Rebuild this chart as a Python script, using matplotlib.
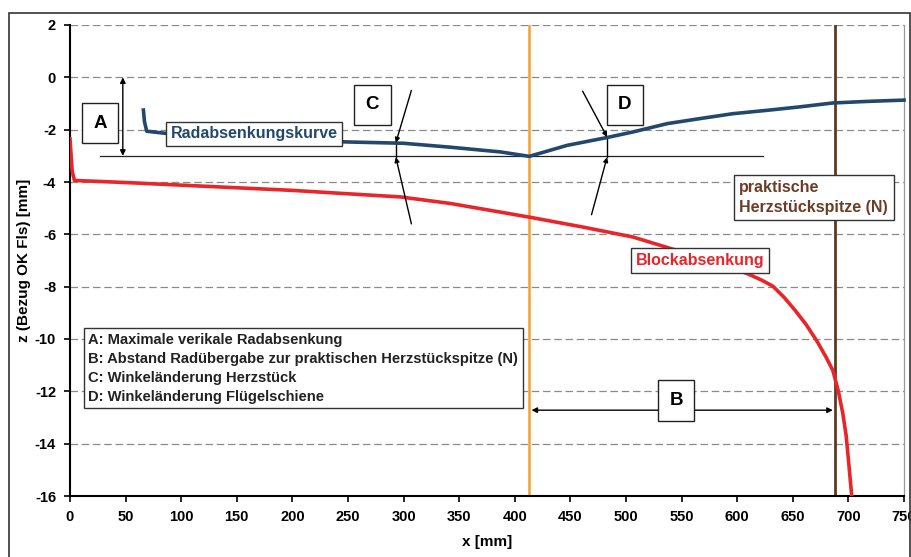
import matplotlib
matplotlib.use("Agg")
import matplotlib.pyplot as plt
from matplotlib.patches import Rectangle

# ---- data ----
blue_x = [66, 67, 69, 86, 100, 150, 200, 250, 300, 342, 387, 413, 447, 483, 506,
          537, 566, 596, 627, 656, 686, 717, 750]
blue_y = [-1.25, -1.7, -2.06, -2.14, -2.18, -2.3, -2.4, -2.47, -2.52, -2.67, -2.85,
          -3.02, -2.6, -2.3, -2.09, -1.77, -1.58, -1.39, -1.26, -1.13, -0.98, -0.92, -0.87]
red_x = [0, 2, 4, 50, 100, 150, 200, 250, 297, 342, 387, 414, 461, 506, 537, 575,
         609, 622, 632, 642, 652, 662, 672, 680, 686, 691, 695, 698, 700, 703]
red_y = [-2.35, -3.6, -3.94, -4.02, -4.12, -4.22, -4.32, -4.45, -4.57, -4.82, -5.15,
         -5.35, -5.72, -6.1, -6.5, -7.0, -7.5, -7.75, -7.98, -8.4, -8.9, -9.45, -10.1,
         -10.7, -11.2, -12.0, -12.85, -13.7, -14.6, -16.0]
x_transfer = 413      # Radübergabe (orange line)
x_tip = 688           # praktische Herzstückspitze (brown line)
z_min = -3.0          # maximale Radabsenkung
x_ticks = list(range(0, 751, 50))
y_ticks = list(range(-16, 3, 2))
legend_lines = ["A: Maximale verikale Radabsenkung",
                "B: Abstand Radübergabe zur praktischen Herzstückspitze (N)",
                "C: Winkeländerung Herzstück",
                "D: Winkeländerung Flügelschiene"]

plt.rcParams['font.family'] = ['Liberation Sans', 'DejaVu Sans']
plt.rcParams['font.weight'] = 'bold'
plt.rcParams['axes.unicode_minus'] = False

fig = plt.figure(figsize=(9.12, 5.57), dpi=100)
W, H = 912, 557
# outer chart frame
fig.patches.append(Rectangle((9 / W, -0.05), (910 - 9) / W, 1 - 13 / H + 0.05,
                             transform=fig.transFigure, fill=False, ec='#333333', lw=1.2))

ax = fig.add_axes([70 / W, 1 - 496 / H, (904 - 70) / W, (496 - 25) / H])
ax.set_xlim(0, 750)
ax.set_ylim(-16, 2)
ax.set_xticks(x_ticks)
ax.set_yticks(y_ticks)
ax.tick_params(labelsize=10.5, length=4, width=1.2, direction='out', pad=6)
for lab in ax.get_xticklabels() + ax.get_yticklabels():
    lab.set_fontweight('bold')
for t in y_ticks[1:]:
    ax.axhline(t, color='#8a8a8a', lw=0.9, ls=(0, (6, 3)), zorder=0)
ax.spines['top'].set_visible(False)
ax.spines['right'].set_color('#999999')
ax.spines['right'].set_linewidth(0.9)
ax.spines['left'].set_linewidth(1.5)
ax.spines['bottom'].set_linewidth(1.5)

ax.set_xlabel('x [mm]', fontsize=11, fontweight='bold', labelpad=8)
ax.set_ylabel('z (Bezug OK Fls) [mm]', fontsize=11, fontweight='bold')
ax.yaxis.set_label_coords(-0.047, 0.5)

# vertical lines
ax.axvline(x_transfer, color='#f5a02a', lw=1.8, zorder=2)
ax.axvline(x_tip, color='#5a3b22', lw=2.0, zorder=2)

# curves
ax.plot(blue_x, blue_y, color='#23486b', lw=2.6, zorder=3, clip_on=False)
ax.plot(red_x, red_y, color='#e8262a', lw=2.6, zorder=3)

# reference line at z_min
ax.plot([27, 623], [z_min, z_min], color='#222222', lw=0.9, zorder=2)

arrow_kw = dict(arrowstyle='<|-|>', color='black', lw=1.0, mutation_scale=8, shrinkA=0, shrinkB=0)
# A arrow
ax.annotate('', xy=(47.5, 0), xytext=(47.5, z_min), arrowprops=arrow_kw)
# B arrow
ax.annotate('', xy=(415, -12.72), xytext=(686, -12.72), arrowprops=arrow_kw)

one_kw = dict(arrowstyle='-|>', color='black', lw=1.0, mutation_scale=7, shrinkA=0, shrinkB=0)
# C lines
ax.annotate('', xy=(293, -2.5), xytext=(307, -0.5), arrowprops=one_kw)
ax.annotate('', xy=(293, -3.05), xytext=(307, -5.6), arrowprops=one_kw)
ax.plot([293, 293], [-2.5, -3.05], color='black', lw=1.0)
# D lines
ax.annotate('', xy=(483, -2.28), xytext=(461, -0.53), arrowprops=one_kw)
ax.annotate('', xy=(483, -3.05), xytext=(469, -5.25), arrowprops=one_kw)
ax.plot([483, 483], [-2.28, -3.05], color='black', lw=1.0)

box = dict(boxstyle='square,pad=0.62', fc='white', ec='#222222', lw=1.0)
letter_kw = dict(fontsize=13.5, fontweight='bold', ha='center', va='center', bbox=box, zorder=5)
ax.text(27, -1.75, 'A', **letter_kw)
ax.text(272, -1.05, 'C', **letter_kw)
ax.text(499, -1.05, 'D', **letter_kw)
ax.text(545, -12.35, 'B', **letter_kw)

lbl_box = dict(boxstyle='square,pad=0.3', fc='white', ec='#333333', lw=1.0)
ax.text(90.5, -2.16, 'Radabsenkungskurve', fontsize=11.5, fontweight='bold', color='#23486b',
        ha='left', va='center', bbox=lbl_box, zorder=5)
ax.text(509, -6.99, 'Blockabsenkung', fontsize=11.5, fontweight='bold', color='#e8262a',
        ha='left', va='center', bbox=lbl_box, zorder=5)
ax.text(602, -4.59, 'praktische\nHerzstückspitze (N)', fontsize=11.5, fontweight='bold',
        color='#6b3d26', ha='left', va='center', linespacing=1.35,
        bbox=dict(boxstyle='square,pad=0.35', fc='white', ec='#333333', lw=1.0), zorder=5)

ax.text(16.5, -11.12, '\n'.join(legend_lines), fontsize=10.6, fontweight='bold', color='#222222',
        ha='left', va='center', linespacing=1.45,
        bbox=dict(boxstyle='square,pad=0.3', fc='white', ec='#333333', lw=1.0), zorder=5)

fig.savefig('out.png', dpi=100)
